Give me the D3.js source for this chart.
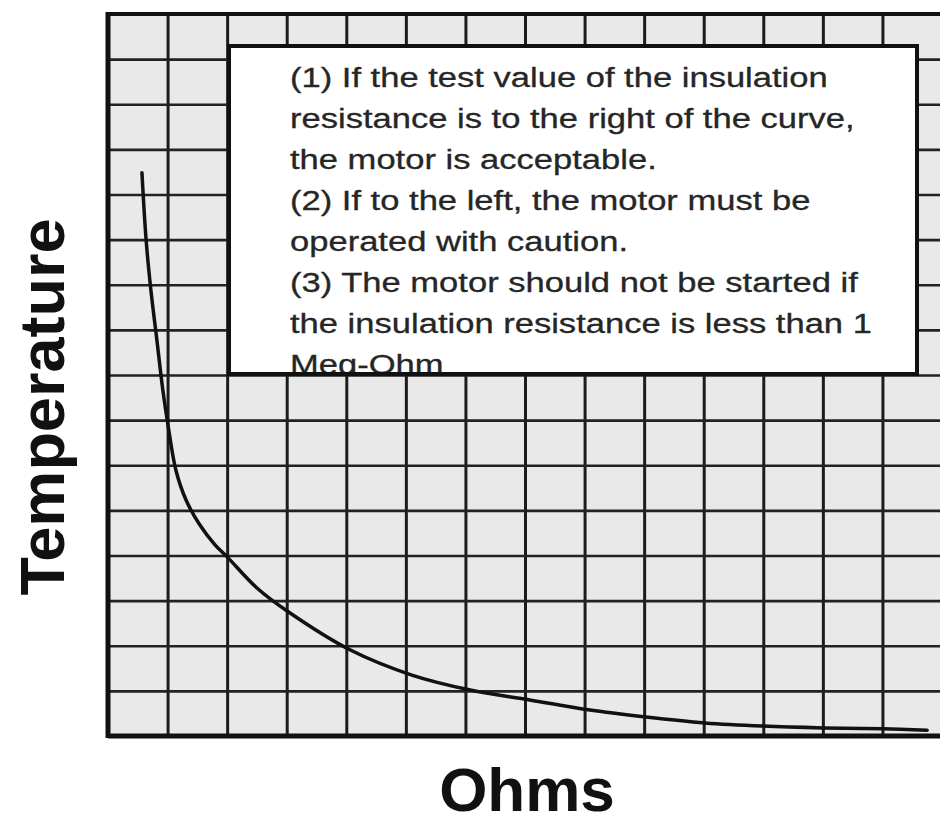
<!DOCTYPE html>
<html>
<head>
<meta charset="utf-8">
<script src="https://cdn.jsdelivr.net/npm/d3@7"></script>
<style>
  html, body { margin: 0; padding: 0; background: #fff; }
  svg { display: block; }
</style>
</head>
<body>
<svg id="chart" width="940" height="825"></svg>
<script>
// ---- data (grid units) ----
const ohms = [0.57, 0.64, 0.72, 0.82, 0.92, 1.02, 1.14, 1.31, 1.54, 1.80, 2.00, 2.50, 3.05, 4.06, 5.10, 6.08, 7.08, 8.06, 9.03, 10.02, 10.99, 12.00, 13.01, 13.75];
const temperature = [12.48, 10.99, 9.88, 8.78, 7.67, 6.78, 5.89, 5.23, 4.68, 4.23, 3.97, 3.28, 2.73, 1.91, 1.35, 1.02, 0.80, 0.58, 0.42, 0.29, 0.22, 0.18, 0.16, 0.13];
const xGridTicks = [0,1,2,3,4,5,6,7,8,9,10,11,12,13,14];
const yGridTicks = [0,1,2,3,4,5,6,7,8,9,10,11,12,13,14,15,16];
const noteLines = [
  "(1) If the test value of the insulation",
  "resistance is to the right of the curve,",
  "the motor is acceptable.",
  "(2) If to the left, the motor must be",
  "operated with caution.",
  "(3) The motor should not be started if",
  "the insulation resistance is less than 1",
  "Meg-Ohm"
];
const xLabel = "Ohms";
const yLabel = "Temperature";

// ---- layout ----
const svg = d3.select("#chart");
const pLeft = 108, pRight = 942, pTop = 14, pBottom = 736;
const x = d3.scaleLinear().domain([0, 14]).range([pLeft, pRight]);
const y = d3.scaleLinear().domain([0, 16]).range([pBottom, pTop]);

// plot background
svg.append("rect")
  .attr("x", pLeft).attr("y", pTop)
  .attr("width", 940 - pLeft).attr("height", pBottom - pTop)
  .attr("fill", "#e9e9e9");

// grid via axes
const gx = svg.append("g")
  .attr("transform", `translate(0,${pBottom})`)
  .call(d3.axisBottom(x).tickValues(xGridTicks).tickSize(-(pBottom - pTop)).tickFormat(""));
gx.select(".domain").remove();
gx.selectAll(".tick line").attr("stroke", "#1c1c1c").attr("stroke-width", 3);

const gy = svg.append("g")
  .attr("transform", `translate(${pLeft},0)`)
  .call(d3.axisLeft(y).tickValues(yGridTicks).tickSize(-(940 - pLeft)).tickFormat(""));
gy.select(".domain").remove();
gy.selectAll(".tick line").attr("stroke", "#222").attr("stroke-width", 2.6);

// frame
svg.append("line").attr("x1", pLeft).attr("x2", pLeft).attr("y1", pTop - 2).attr("y2", pBottom + 2)
  .attr("stroke", "#111").attr("stroke-width", 5);
svg.append("line").attr("x1", pLeft).attr("x2", 940).attr("y1", pTop).attr("y2", pTop)
  .attr("stroke", "#111").attr("stroke-width", 4);
svg.append("line").attr("x1", pLeft).attr("x2", 940).attr("y1", pBottom).attr("y2", pBottom)
  .attr("stroke", "#111").attr("stroke-width", 5);

// curve
const pts = ohms.map((v, i) => [v, temperature[i]]);
svg.append("path")
  .datum(pts)
  .attr("fill", "none")
  .attr("stroke", "#111")
  .attr("stroke-width", 3.5)
  .attr("stroke-linecap", "round")
  .attr("d", d3.line().x(d => x(d[0])).y(d => y(d[1])).curve(d3.curveCatmullRom.alpha(0.5)));

// note box
const bx = 229, by = 46, bw = 688, bh = 328;
svg.append("defs").append("clipPath").attr("id", "boxclip")
  .append("rect").attr("x", bx).attr("y", by).attr("width", bw).attr("height", bh);
svg.append("rect").attr("x", bx).attr("y", by).attr("width", bw).attr("height", bh)
  .attr("fill", "#fff");
const tg = svg.append("g").attr("clip-path", "url(#boxclip)")
  .append("g").attr("transform", "translate(290,0) scale(1.28,1)");
tg.selectAll("text").data(noteLines).join("text")
  .attr("x", 0)
  .attr("y", (d, i) => 87 + i * 41)
  .attr("font-family", "'Liberation Sans', Arial, sans-serif")
  .attr("font-size", 27)
  .attr("fill", "#262626")
  .attr("stroke", "#262626")
  .attr("stroke-width", 0.3)
  .text(d => d);
svg.append("rect").attr("x", bx).attr("y", by).attr("width", bw).attr("height", bh)
  .attr("fill", "none").attr("stroke", "#111").attr("stroke-width", 4);

// axis labels
svg.append("text")
  .attr("x", 527).attr("y", 811)
  .attr("text-anchor", "middle")
  .attr("font-family", "'Liberation Sans', Arial, sans-serif")
  .attr("font-weight", "bold")
  .attr("font-size", 62)
  .attr("fill", "#111")
  .text(xLabel);
svg.append("text")
  .attr("transform", "translate(64,407) rotate(-90)")
  .attr("text-anchor", "middle")
  .attr("font-family", "'Liberation Sans', Arial, sans-serif")
  .attr("font-weight", "bold")
  .attr("font-size", 63)
  .attr("fill", "#111")
  .text(yLabel);
</script>
</body>
</html>
